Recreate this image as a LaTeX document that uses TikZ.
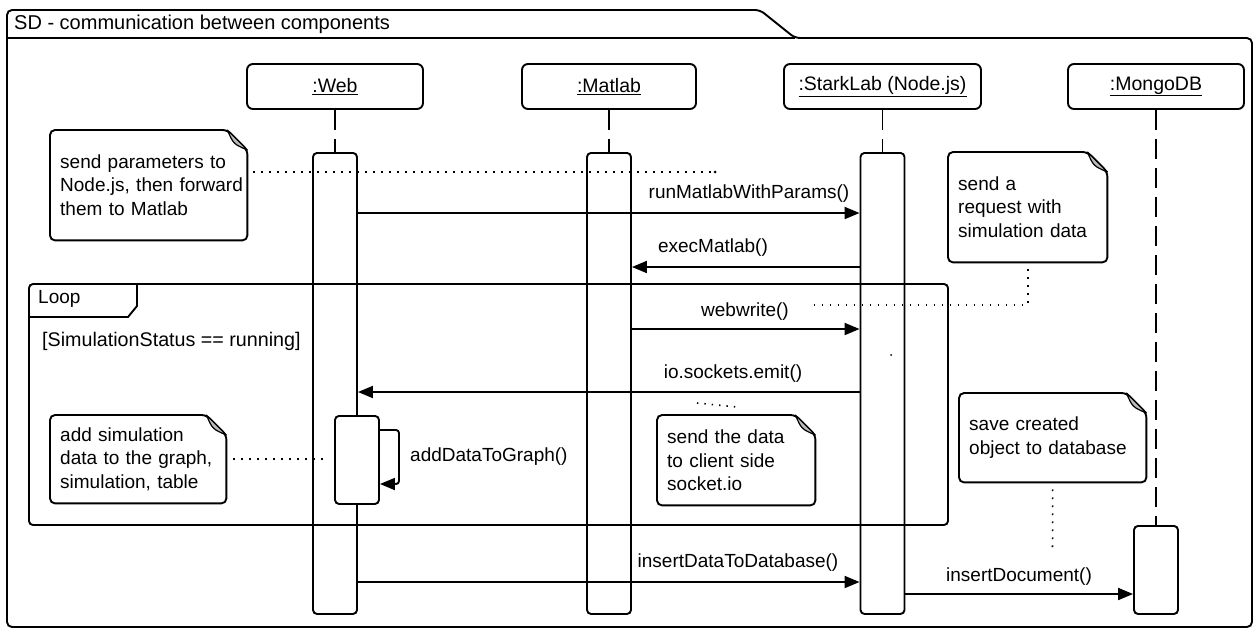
\documentclass[tikz,border=0pt]{standalone}
\usepackage{fontspec}
\setmainfont{Liberation Sans}
\usetikzlibrary{arrows.meta}
\tikzset{
  lw/.style={line width=1.9pt},
  head/.style={draw, lw, rounded corners=6pt, minimum height=45pt, inner sep=0pt, font=\fontsize{19.5}{22}\selectfont},
  act/.style={draw, lw, rounded corners=4pt, minimum width=44pt, inner sep=0pt, anchor=north},
  lifeline/.style={lw, dash pattern=on 20pt off 9pt},
  msg/.style={lw, -{Triangle[length=15pt,width=12pt]}},
  lbl/.style={font=\fontsize{19}{22}\selectfont, inner sep=0pt},
  notebox/.style={inner xsep=10pt, inner ysep=0pt, align=left, anchor=north west, font=\fontsize{19}{23.5}\selectfont},
  dots/.style={line width=1.6pt, dash pattern=on 1.6pt off 6.4pt},
}
\newcommand\drawnote[1]{%
  \draw[lw, rounded corners=5pt] (#1.north west) -- ([xshift=-20pt]#1.north east) -- ([yshift=-20pt]#1.north east) -- (#1.south east) -- (#1.south west) -- cycle;
  \filldraw[line width=1.2pt, fill=gray!55, line join=round] ([xshift=-20pt]#1.north east) .. controls ([xshift=-14pt,yshift=-14pt]#1.north east) .. ([yshift=-20pt]#1.north east) -- cycle;
}
\newcommand\noteline[1]{\mbox{#1}}
\begin{document}
\begin{tikzpicture}[x=1pt, y=-1pt]
\fill[white] (0,0) rectangle (1255,633);
\useasboundingbox (0,0) rectangle (1255,633);

% outer frame
\draw[lw, rounded corners=5pt] (7,627) -- (7,10) -- (760,10) -- (795,38) -- (1252,38) -- (1252,627) -- cycle;
\draw[lw] (7,38) -- (795,38);
\node[lbl, anchor=west, font=\fontsize{20}{24}\selectfont] (title) at (14,24) {SD - communication between components};

% loop fragment
\draw[lw, rounded corners=4pt] (29,284) rectangle (948,525);
\draw[lw] (29,317) -- (128,317) -- (137,306) -- (137,284);
\node[lbl, anchor=west] (looplbl) at (38,299) {Loop};
\node[lbl, anchor=west, font=\fontsize{19.7}{22}\selectfont] (guard) at (42,341) {[SimulationStatus == running]};

% lifeline heads
\node[head, minimum width=176pt] (web) at (335,86.5) {\underline{:Web}};
\node[head, minimum width=174pt] (matlab) at (609,86.5) {\underline{:Matlab}};
\node[head, minimum width=197pt] (stark) at (882.5,86.5) {\underline{:StarkLab (Node.js)}};
\node[head, minimum width=176pt] (mongo) at (1156,86.5) {\underline{:MongoDB}};

% activations
\node[act, minimum height=461pt] (webact) at (335,152) {};
\node[act, minimum height=461pt] (matact) at (609,152) {};
\node[act, minimum height=461pt] (staract) at (882.5,152) {};
\node[act, minimum height=88pt] (monact) at (1156,525) {};
\node[act, minimum height=88pt, fill=white] (webact2) at (357,415) {};

% lifelines
\draw[lifeline] (web.south) -- (webact.north);
\draw[lifeline] (matlab.south) -- (matact.north);
\draw[lifeline] (stark.south) -- (staract.north);
\draw[lifeline] (mongo.south) -- (monact.north);

% message levels
\coordinate (m1) at (0,213);
\coordinate (m2) at (0,267);
\coordinate (m3) at (0,329);
\coordinate (m4) at (0,392);
\coordinate (m5) at (0,582);
\coordinate (m6) at (0,594);
\coordinate (s1) at (399,430);
\coordinate (s2) at (399,484);

\draw[msg] (webact.east |- m1) -- (staract.west |- m1);
\node[lbl] (l1) at (749,194) {runMatlabWithParams()};
\draw[msg] (staract.west |- m2) -- (matact.east |- m2);
\node[lbl] (l2) at (713,248) {execMatlab()};
\draw[msg] (matact.east |- m3) -- (staract.west |- m3);
\node[lbl] (l3) at (745,312) {webwrite()};
\draw[msg] (staract.west |- m4) -- (webact.east |- m4);
\node[lbl] (l4) at (733,374) {io.sockets.emit()};
\draw[msg, rounded corners=3pt] (webact2.east |- s1) -- (s1) -- (s2) -- (webact2.east |- s2);
\node[lbl, anchor=west] (l5) at (410,457) {addDataToGraph()};
\draw[msg] (webact.east |- m5) -- (staract.west |- m5);
\node[lbl] (l6) at (738,563) {insertDataToDatabase()};
\draw[msg] (staract.east |- m6) -- (monact.west |- m6);
\node[lbl] (l7) at (1019,577) {insertDocument()};

% notes
\node[notebox, minimum width=197pt, minimum height=110pt, text width=177pt] (n1) at (50,130) {\noteline{send parameters to}\\\noteline{Node.js, then forward}\\\noteline{them to Matlab}};
\drawnote{n1}
\node[notebox, minimum width=159pt, minimum height=110pt, text width=139pt] (n2) at (948,152) {\noteline{send a}\\\noteline{request with}\\\noteline{simulation data}};
\drawnote{n2}
\node[notebox, minimum width=158pt, minimum height=90pt, text width=138pt] (n3) at (657,415) {\noteline{send the data}\\\noteline{to client side}\\\noteline{socket.io}};
\drawnote{n3}
\node[notebox, minimum width=176pt, minimum height=88pt, text width=156pt] (n4) at (50,415) {\noteline{add simulation}\\\noteline{data to the graph,}\\\noteline{simulation, table}};
\drawnote{n4}
\node[notebox, minimum width=187pt, minimum height=89pt, text width=167pt] (n5) at (959,393) {\noteline{save created}\\\noteline{object to database}};
\drawnote{n5}

% note connectors
\coordinate (d1) at (715,172);
\draw[dots, shorten <=6pt] (n1.east |- d1) -- (d1);
\fill (d1) circle (1.5pt);
\coordinate (d2) at (808,305);
\draw[dots, shorten <=7pt] (n2.south) -- (n2.south |- d2) -- (d2);
\coordinate (d3a) at (697,403);
\coordinate (d3b) at (737,407);
\draw[dots, dash pattern=on 1.4pt off 6pt] (d3a) -- (d3b);
\fill (891,355) circle (1pt);
\draw[dots, shorten <=7pt, shorten >=8pt] (n4.east) -- (n4.east -| webact2.west);
\coordinate (d5) at (1052.5,553);
\draw[dots, shorten <=7pt] (n5.south) -- (d5);
\end{tikzpicture}
\end{document}
